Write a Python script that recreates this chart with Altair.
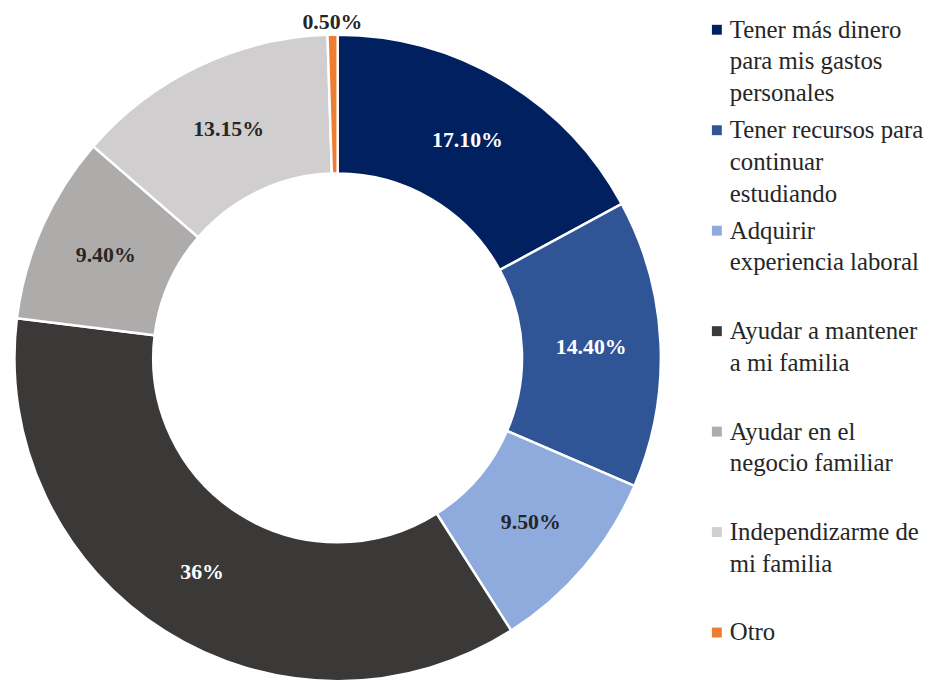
import altair as alt
import pandas as pd

categories = [
    "Tener más dinero para mis gastos personales",
    "Tener recursos para continuar estudiando",
    "Adquirir experiencia laboral",
    "Ayudar a mantener a mi familia",
    "Ayudar en el negocio familiar",
    "Independizarme de mi familia",
    "Otro",
]
values = [17.10, 14.40, 9.50, 36.0, 9.40, 13.15, 0.50]
value_labels = ["17.10%", "14.40%", "9.50%", "36%", "9.40%", "13.15%", "0.50%"]
legend_labels = [
    "Tener más dinero\npara mis gastos\npersonales",
    "Tener recursos para\ncontinuar\nestudiando",
    "Adquirir\nexperiencia laboral",
    "Ayudar a mantener\na mi familia",
    "Ayudar en el\nnegocio familiar",
    "Independizarme de\nmi familia",
    "Otro",
]
colors = ["#002060", "#2F5597", "#8FAADC", "#3B3838", "#AEABAB", "#D0CECE", "#ED7D31"]
white_label_cats = categories[0:2] + [categories[3]]
outside_label_cats = [categories[6]]

df = pd.DataFrame({
    "cat": categories,
    "value": values,
    "label": value_labels,
    "legend": legend_labels,
    "idx": list(range(len(categories))),
})

CX, CY = 332.5, 348
R_OUT, R_IN = 326, 186
SERIF = "Liberation Serif"

base = alt.Chart(df).encode(
    theta=alt.Theta("value:Q", stack=True),
    order=alt.Order("idx:Q"),
)

arcs = base.mark_arc(
    x=CX, y=CY, outerRadius=R_OUT, innerRadius=R_IN, stroke="white", strokeWidth=2.5
).encode(
    color=alt.Color("cat:N", scale=alt.Scale(domain=categories, range=colors), legend=None)
)

inside = base.mark_text(
    x=CX, y=CY, radius=(R_OUT + R_IN) / 2, font=SERIF, fontSize=22, fontWeight="bold"
).encode(
    text=alt.condition(
        alt.FieldOneOfPredicate(field="cat", oneOf=outside_label_cats),
        alt.value(""),
        alt.Text("label:N"),
    ),
    color=alt.condition(
        alt.FieldOneOfPredicate(field="cat", oneOf=white_label_cats),
        alt.value("#FFFFFF"),
        alt.value("#262626"),
    ),
)

outside = base.mark_text(
    x=CX, y=CY, radius=R_OUT + 13, font=SERIF, fontSize=22, fontWeight="bold", color="#262626"
).encode(
    text=alt.condition(
        alt.FieldOneOfPredicate(field="cat", oneOf=outside_label_cats),
        alt.Text("label:N"),
        alt.value(""),
    ),
)

donut = alt.layer(arcs, inside, outside).properties(width=664, height=674)

ybase = alt.Chart(df).encode(
    y=alt.Y("cat:N", scale=alt.Scale(type="point", domain=categories, range=[17, 625], padding=0), axis=None)
)
squares = ybase.mark_square(x=27, size=100, opacity=1).encode(
    color=alt.Color("cat:N", scale=alt.Scale(domain=categories, range=colors), legend=None)
)
texts = ybase.mark_text(
    x=40, align="left", baseline="alphabetic", dy=8, font=SERIF, fontSize=25,
    lineHeight=32, lineBreak="\n", color="#262626"
).encode(text="legend:N")

legend = alt.layer(squares, texts).properties(width=244, height=674)

chart = alt.hconcat(donut, legend, spacing=16).properties(
    padding=0
).configure_view(stroke=None)

chart.save("out.html", embed_options={"renderer": "svg", "actions": False})
